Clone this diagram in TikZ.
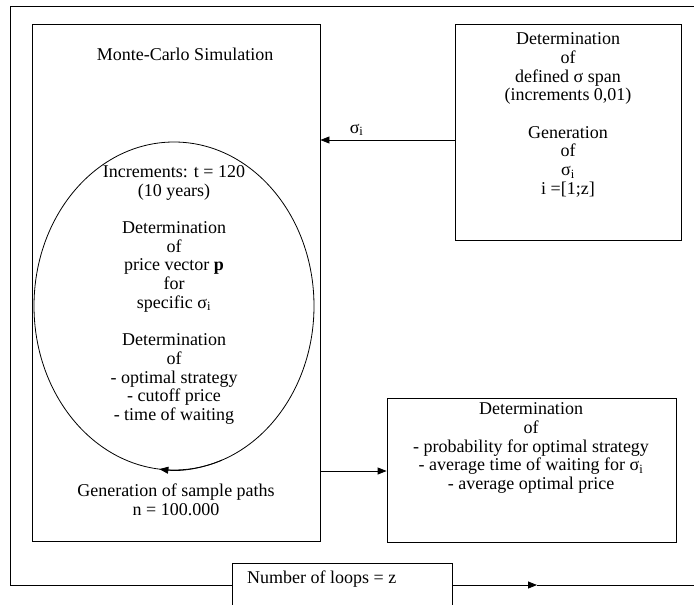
\documentclass[tikz,border=0pt]{standalone}
\usepackage{fontspec}
\setmainfont{Liberation Serif}
\usetikzlibrary{arrows.meta,shapes.geometric}
\newcommand{\sgi}{σ\textsubscript{i}}
\begin{document}
\begin{tikzpicture}[x=1pt,y=-1pt,
  line/.style={line width=0.8pt},
  box/.style={draw,line width=0.8pt,rectangle,inner sep=0pt},
  txt/.style={align=center,font=\fontsize{18}{18.7}\selectfont,inner sep=0pt},
  tip/.style={-{Triangle[length=9pt,width=7pt]}}]
\clip (0,0) rectangle (694,605);
% boxes
\node[box,minimum width=288,minimum height=517] (mc) at (176,282.5) {};
\node[box,minimum width=226,minimum height=216] (rt) at (568,132) {};
\node[box,minimum width=289,minimum height=144] (mid) at (531.5,470) {};
\node[box,minimum width=220,minimum height=62] (loops) at (342,594) {};
\node[draw,ellipse,line width=0.8pt,inner sep=0pt,minimum width=280,minimum height=328] (ell) at (174,306) {};
% texts
\node[txt] (mctitle) at (185,54) {Monte-Carlo Simulation};
\node[txt] (elltext) at (174,295) {Increments: t = 120\\(10 years)\\[18.7pt]Determination\\of\\price vector \textbf{p}\\for\\specific \sgi\\[18.7pt]Determination\\of\\- optimal strategy\\- cutoff price\\- time of waiting};
\node[txt] (gen) at (176,500) {Generation of sample paths\\n = 100.000};
\node[txt] (rttext) at (568,115) {Determination\\of\\defined σ span\\(increments 0,01)\\[18.7pt]Generation\\of\\\sgi\\i =[1;z]};
\node[txt] (midtext) at (531,448) {Determination\\of\\- probability for optimal strategy\\- average time of waiting for \sgi\\- average optimal price};
\node[txt,anchor=west] (looptext) at (247,579) {Number of loops = z};
% outer frame
\coordinate (tl) at (10,6);
\coordinate (tr) at (720,6);
\coordinate (bl) at (10,585);
\coordinate (br) at (720,585);
\coordinate (arr) at (537,585);
\draw[line] (tr) -- (tl) -- (bl) -- (loops.west |- bl);
\draw[line,tip] (loops.east |- bl) -- (arr);
\draw[line] (arr) -- (br);
% connectors
\draw[line,tip] (rt.west |- 0,140) -- node[txt,above=4pt,pos=0.73] (siglab) {\sgi} (mc.east |- 0,140);
\draw[line,tip] (mc.east |- 0,471) -- (mid.west |- 0,471);
\draw[line,tip] (ell.center) ++(70:140 and 164) arc[start angle=70,end angle=96,x radius=140,y radius=164];
\end{tikzpicture}
\end{document}
